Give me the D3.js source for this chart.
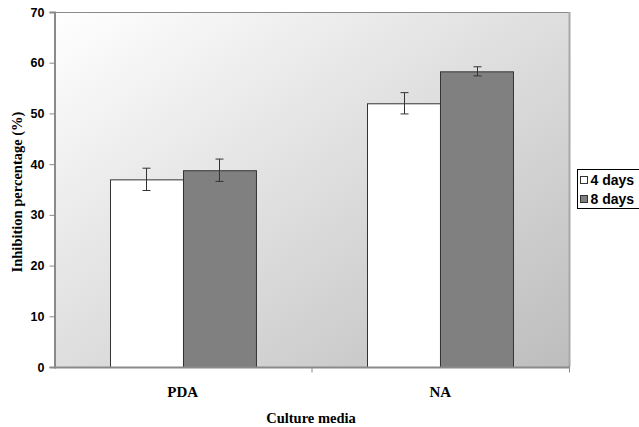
<!DOCTYPE html>
<html>
<head>
<meta charset="utf-8">
<script src="https://cdn.jsdelivr.net/npm/d3@7"></script>
<style>
  html, body { margin: 0; padding: 0; background: #fff; }
  svg { display: block; }
</style>
</head>
<body>
<svg id="chart" width="639" height="427"></svg>
<script>
// Inhibition percentage by culture medium and incubation time
const categories = ["PDA", "NA"];
const seriesNames = ["4 days", "8 days"];
const values4 = [37.0, 52.0];
const values8 = [38.8, 58.3];
const errors4 = [2.2, 2.1];
const errors8 = [2.2, 0.9];
const yTicks = [0, 10, 20, 30, 40, 50, 60, 70];
const seriesFills = ["#ffffff", "#808080"];

const svg = d3.select("#chart");
const plot = { left: 54, right: 569, top: 12, bottom: 367 };

const x = d3.scaleBand().domain(categories).range([plot.left, plot.right]).paddingInner(0).paddingOuter(0);
const inner = d3.scaleBand().domain(seriesNames).range([0, x.bandwidth()]).paddingInner(0).paddingOuter(0.7647);
const y = d3.scaleLinear().domain([0, 70]).range([plot.bottom, plot.top]);

// Plot area background: diagonal white-to-grey gradient
const defs = svg.append("defs");
const grad = defs.append("linearGradient").attr("id", "bg")
  .attr("x1", "0%").attr("y1", "0%").attr("x2", "100%").attr("y2", "100%");
grad.append("stop").attr("offset", "0%").attr("stop-color", "#ffffff");
grad.append("stop").attr("offset", "100%").attr("stop-color", "#bdbdbd");

svg.append("rect")
  .attr("x", plot.left).attr("y", plot.top)
  .attr("width", plot.right - plot.left).attr("height", plot.bottom - plot.top)
  .attr("fill", "url(#bg)");

// Frame lines (top and right)
svg.append("line").attr("x1", plot.left).attr("x2", plot.right)
  .attr("y1", plot.top + 0.5).attr("y2", plot.top + 0.5)
  .attr("stroke", "#8a8a8a").attr("stroke-width", 1);
svg.append("line").attr("x1", plot.right + 0.5).attr("x2", plot.right + 0.5)
  .attr("y1", plot.top).attr("y2", plot.bottom)
  .attr("stroke", "#a8a8a8").attr("stroke-width", 2);

// Bars
const rows = [];
categories.forEach((c, i) => {
  rows.push({ cat: c, s: seriesNames[0], v: values4[i], e: errors4[i], fill: seriesFills[0] });
  rows.push({ cat: c, s: seriesNames[1], v: values8[i], e: errors8[i], fill: seriesFills[1] });
});

const bars = svg.append("g");
bars.selectAll("rect").data(rows).enter().append("rect")
  .attr("x", d => Math.round(x(d.cat) + inner(d.s)) + 0.5)
  .attr("y", d => y(d.v) + 0.5)
  .attr("width", inner.bandwidth())
  .attr("height", d => y(0) - y(d.v))
  .attr("fill", d => d.fill)
  .attr("stroke", "#333")
  .attr("stroke-width", 1);

// Error bars
const eb = svg.append("g").attr("stroke", "#333").attr("stroke-width", 1);
rows.forEach(d => {
  const cx = Math.round(x(d.cat) + inner(d.s) + inner.bandwidth() / 2) + 0.5;
  eb.append("line").attr("x1", cx).attr("x2", cx).attr("y1", y(d.v + d.e)).attr("y2", y(d.v - d.e));
  eb.append("line").attr("x1", cx - 4).attr("x2", cx + 4).attr("y1", y(d.v + d.e)).attr("y2", y(d.v + d.e));
  eb.append("line").attr("x1", cx - 4).attr("x2", cx + 4).attr("y1", y(d.v - d.e)).attr("y2", y(d.v - d.e));
});

// Y axis
const yAxis = svg.append("g").attr("transform", `translate(${plot.left + 0.5},0)`)
  .call(d3.axisLeft(y).tickValues(yTicks).tickSize(5).tickPadding(5).tickFormat(d3.format("d")));
yAxis.select(".domain").attr("stroke", "#8a8a8a").attr("stroke-width", 2);
yAxis.selectAll(".tick line").attr("stroke", "#8a8a8a");
yAxis.selectAll(".tick text")
  .attr("font-family", "Arial, 'Liberation Sans', sans-serif")
  .attr("font-weight", "bold").attr("font-size", 12.5).attr("fill", "#000");

// X axis with ticks at category boundaries
const xAxisG = svg.append("g").attr("transform", `translate(0,${plot.bottom + 0.5})`);
xAxisG.append("line").attr("x1", plot.left).attr("x2", plot.right + 1)
  .attr("stroke", "#8a8a8a").attr("stroke-width", 2);
const bounds = [x(categories[1]), plot.right];
xAxisG.selectAll("line.tk").data(bounds).enter().append("line")
  .attr("class", "tk")
  .attr("x1", d => d + 0.5).attr("x2", d => d + 0.5).attr("y1", 0).attr("y2", 5)
  .attr("stroke", "#8a8a8a");
xAxisG.selectAll("text").data(categories).enter().append("text")
  .attr("x", d => x(d) + x.bandwidth() / 2)
  .attr("y", 29)
  .attr("text-anchor", "middle")
  .attr("font-family", "'Times New Roman', 'Liberation Serif', serif")
  .attr("font-weight", "bold").attr("font-size", 15)
  .text(d => d);

// Axis titles
svg.append("text")
  .attr("x", (plot.left + plot.right) / 2 - 0.5).attr("y", 423)
  .attr("text-anchor", "middle")
  .attr("font-family", "'Times New Roman', 'Liberation Serif', serif")
  .attr("font-weight", "bold").attr("font-size", 14.5)
  .text("Culture media");

svg.append("text")
  .attr("transform", "translate(22,192) rotate(-90)")
  .attr("text-anchor", "middle")
  .attr("font-family", "'Times New Roman', 'Liberation Serif', serif")
  .attr("font-weight", "bold").attr("font-size", 14.5)
  .text("Inhibition percentage (%)");

// Legend
const lg = svg.append("g").attr("transform", "translate(577.5,169.5)");
lg.append("rect").attr("width", 70).attr("height", 39)
  .attr("fill", "#fff").attr("stroke", "#000").attr("stroke-width", 1);
seriesNames.forEach((s, i) => {
  const row = lg.append("g").attr("transform", `translate(0,${10 + i * 19})`);
  row.append("rect").attr("x", 3).attr("y", -3).attr("width", 7).attr("height", 7)
    .attr("fill", seriesFills[i]).attr("stroke", "#333");
  row.append("text").attr("x", 13).attr("y", 5)
    .attr("font-family", "Arial, 'Liberation Sans', sans-serif")
    .attr("font-weight", "bold").attr("font-size", 14)
    .text(s);
});
</script>
</body>
</html>
